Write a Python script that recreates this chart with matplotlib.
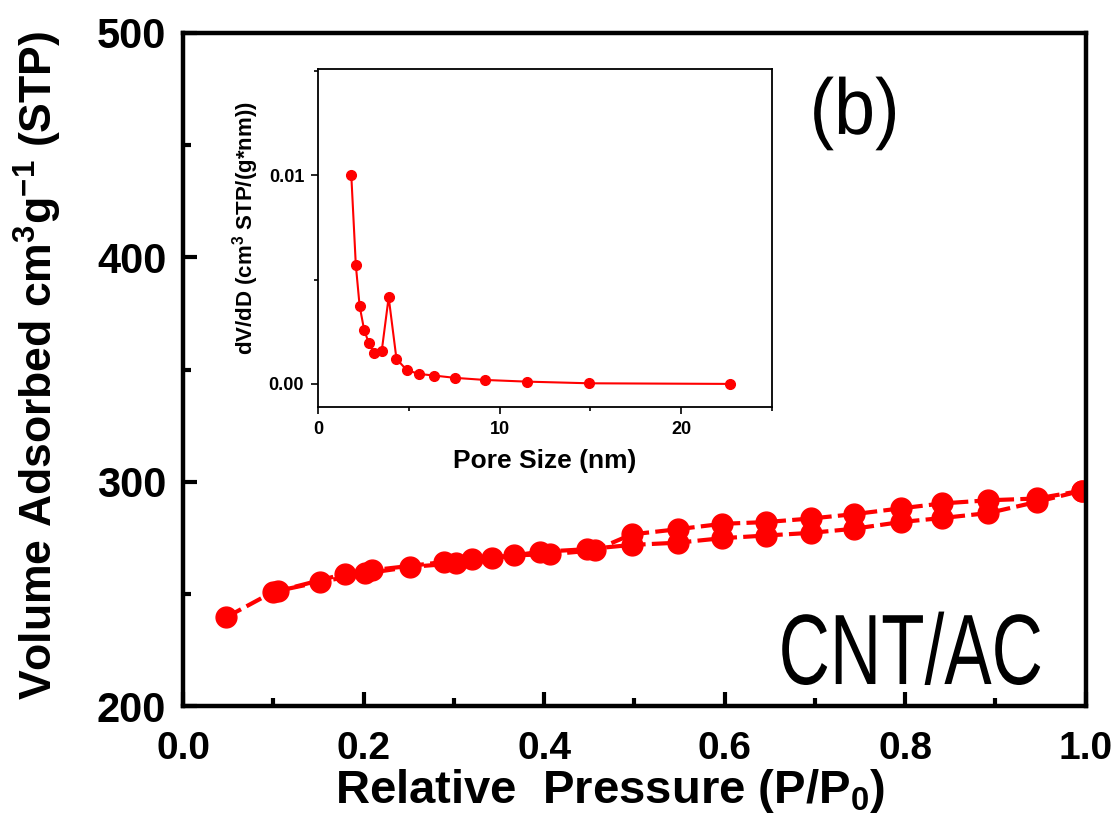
import numpy as np
import matplotlib
matplotlib.use("Agg")
import matplotlib.pyplot as plt
from matplotlib.ticker import MultipleLocator
from matplotlib.patheffects import AbstractPathEffect
from matplotlib.transforms import Affine2D

# isotherm data
ads_p = [0.048, 0.100, 0.152, 0.202, 0.252, 0.302, 0.342, 0.395, 0.447, 0.497,
         0.548, 0.597, 0.646, 0.696, 0.743, 0.795, 0.841, 0.892, 0.946, 0.996]
ads_v = [239.6, 250.9, 255.3, 259.1, 262.0, 263.6, 265.8, 268.7, 269.9, 271.8,
         272.8, 274.8, 276.0, 277.2, 279.0, 282.0, 283.8, 286.0, 291.0, 296.0]
des_p = [0.996, 0.946, 0.892, 0.841, 0.795, 0.743, 0.696, 0.646, 0.597, 0.548,
         0.497, 0.456, 0.406, 0.367, 0.320, 0.289, 0.209, 0.180, 0.105]
des_v = [296.0, 292.5, 291.7, 290.3, 288.1, 285.5, 283.6, 282.0, 281.2, 278.8,
         276.5, 269.4, 267.6, 267.2, 265.4, 264.2, 260.5, 259.0, 251.2]

# pore size distribution (inset)
pore_d = [1.83, 2.08, 2.29, 2.54, 2.80, 3.10, 3.51, 3.89, 4.32, 4.88, 5.54,
          6.40, 7.55, 9.20, 11.49, 14.94, 22.72]
pore_dv = [0.0100, 0.00569, 0.00373, 0.00258, 0.00195, 0.00147, 0.00159,
           0.00415, 0.00120, 0.00067, 0.00048, 0.00040, 0.00029, 0.00019,
           0.00011, 0.00003, 0.0]

red = '#ff0000'
plt.rcParams['font.family'] = ['Liberation Sans', 'DejaVu Sans']
plt.rcParams['mathtext.fontset'] = 'custom'
plt.rcParams['mathtext.rm'] = 'Liberation Sans'
plt.rcParams['mathtext.bf'] = 'Liberation Sans:bold'
plt.rcParams['mathtext.default'] = 'bf'


# squeeze glyphs horizontally about their centre (narrow look), text stays a Text object
class Squeeze(AbstractPathEffect):
    def __init__(self, sx):
        super().__init__()
        self.sx = sx

    def draw_path(self, renderer, gc, tpath, affine, rgbFace=None):
        ext = tpath.get_extents()
        cx = 0.5 * (ext.x0 + ext.x1)
        sq = Affine2D().translate(-cx, 0).scale(self.sx, 1).translate(cx, 0)
        renderer.draw_path(gc, tpath, sq + affine, rgbFace)


fig = plt.figure(figsize=(11.2, 8.27), dpi=100)
ax = fig.add_axes([0.1634, 0.1463, 0.806, 0.8138])

ax.plot(ads_p, ads_v, '--', color=red, lw=3, dashes=(4, 1.5),
        marker='o', ms=15, mec=red, mfc=red)
ax.plot(des_p, des_v, '--', color=red, lw=3, dashes=(4, 1.5),
        marker='o', ms=15, mec=red, mfc=red)

ax.set_xlim(0.0, 1.0)
ax.set_ylim(200, 500)
ax.xaxis.set_major_locator(MultipleLocator(0.2))
ax.xaxis.set_minor_locator(MultipleLocator(0.1))
ax.yaxis.set_major_locator(MultipleLocator(100))
ax.yaxis.set_minor_locator(MultipleLocator(50))
ax.set_xticklabels([f'{t:.1f}' for t in ax.get_xticks()])
ax.tick_params(which='both', direction='in', width=3, top=False, right=False,
               labelsize=30)
ax.tick_params(axis='x', labelsize=28, pad=18)
ax.tick_params(axis='y', pad=12)
ax.tick_params(which='major', length=10)
ax.tick_params(which='minor', length=6)
for lab in ax.get_xticklabels() + ax.get_yticklabels():
    lab.set_fontweight('bold')
for s in ax.spines.values():
    s.set_linewidth(3.2)

ax.set_xlabel(r'Relative  Pressure (P/P$_\mathbf{0}$)', fontsize=34,
              fontweight='bold')
ax.set_ylabel(r'Volume Adsorbed cm$^\mathbf{3}$g$^\mathbf{-1}$ (STP)', fontsize=32,
              fontweight='bold')
ax.xaxis.set_label_coords(0.473, -0.090)
ax.yaxis.set_label_coords(-0.132, 0.506)

ax.text(0.806, 209.8, 'CNT/AC', fontsize=72, ha='center', va='baseline',
        path_effects=[Squeeze(0.71)])
ax.text(0.744, 455, '(b)', fontsize=57, ha='center', va='baseline',
        path_effects=[Squeeze(0.93)])

# inset
ins = fig.add_axes([0.284, 0.508, 0.405, 0.409])
ins.plot(pore_d, pore_dv, '-', color=red, lw=1.5, marker='o', ms=7,
         mec=red, mfc=red)
ins.set_xlim(0, 25)
ins.set_ylim(-0.0011, 0.0151)
ins.xaxis.set_major_locator(MultipleLocator(10))
ins.xaxis.set_minor_locator(MultipleLocator(5))
ins.yaxis.set_major_locator(MultipleLocator(0.01))
ins.yaxis.set_minor_locator(MultipleLocator(0.005))
ins.set_yticklabels(['%.2f' % t for t in ins.get_yticks()])
ins.tick_params(which='both', direction='out', width=1.2, top=False,
                right=False, labelsize=13, pad=5)
ins.tick_params(which='major', length=5)
ins.tick_params(which='minor', length=3)
for lab in ins.get_xticklabels() + ins.get_yticklabels():
    lab.set_fontweight('bold')
for s in ins.spines.values():
    s.set_linewidth(1.3)
ins.set_xlabel('Pore Size (nm)', fontsize=19, fontweight='bold')
ins.set_ylabel(r'dV/dD (cm$^3$ STP/(g*nm))', fontsize=16, fontweight='bold')
ins.xaxis.set_label_coords(0.5, -0.125)
ins.yaxis.set_label_coords(-0.125, 0.53)

fig.savefig('out.png', dpi=100)
